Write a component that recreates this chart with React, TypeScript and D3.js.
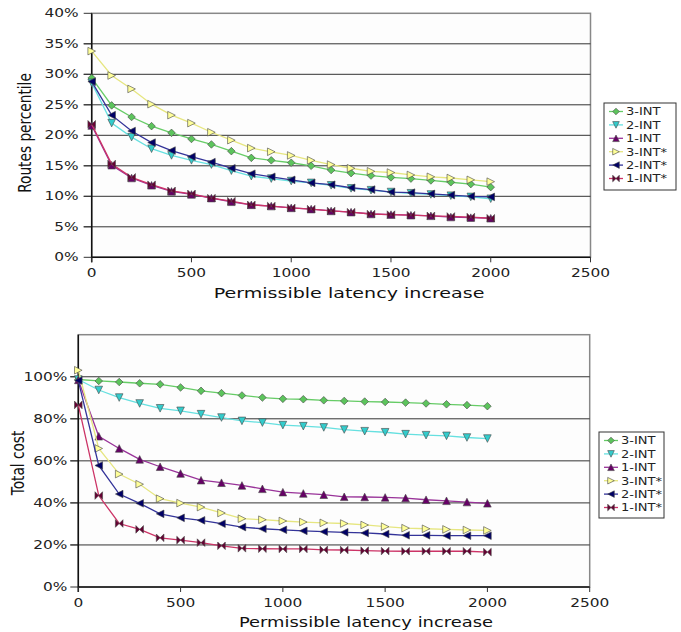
import React, { useEffect, useRef } from 'react'
import * as d3 from 'd3'

// latency increase steps (x categories)
const latency = [0, 100, 200, 300, 400, 500, 600, 700, 800, 900, 1000, 1100, 1200, 1300, 1400, 1500, 1600, 1700, 1800, 1900, 2000]

const seriesNames = ['3-INT', '2-INT', '1-INT', '3-INT*', '2-INT*', '1-INT*']

// top chart: routes percentile (%)
const routes3 = [29.4, 24.9, 23.0, 21.5, 20.4, 19.4, 18.5, 17.4, 16.3, 15.9, 15.5, 15.0, 14.3, 13.8, 13.4, 13.1, 12.9, 12.6, 12.3, 12.0, 11.5]
const routes2 = [28.6, 22.0, 19.7, 17.8, 16.7, 15.9, 15.2, 14.2, 13.3, 12.9, 12.5, 12.2, 11.8, 11.3, 11.0, 10.7, 10.5, 10.3, 10.1, 9.9, 9.6]
const routes1 = [21.6, 15.1, 13.0, 11.8, 10.8, 10.3, 9.7, 9.1, 8.6, 8.4, 8.1, 7.9, 7.6, 7.4, 7.1, 7.0, 6.9, 6.8, 6.6, 6.5, 6.4]
const routes3s = [33.8, 29.8, 27.6, 25.1, 23.3, 22.0, 20.5, 19.2, 17.9, 17.3, 16.7, 15.9, 15.2, 14.6, 14.1, 13.9, 13.5, 13.2, 13.0, 12.7, 12.4]
const routes2s = [28.8, 23.3, 20.7, 18.8, 17.5, 16.5, 15.6, 14.6, 13.7, 13.2, 12.7, 12.2, 11.9, 11.4, 11.1, 10.7, 10.6, 10.4, 10.2, 10.0, 9.9]
const routes1s = [21.8, 15.3, 13.1, 11.9, 10.9, 10.4, 9.7, 9.2, 8.6, 8.4, 8.1, 7.9, 7.6, 7.4, 7.1, 7.0, 6.9, 6.8, 6.7, 6.6, 6.4]

// bottom chart: total cost (%)
const cost3 = [98.7, 98.0, 97.5, 96.9, 96.4, 94.9, 93.3, 92.2, 91.1, 90.1, 89.5, 89.3, 88.8, 88.5, 88.2, 88.0, 87.7, 87.3, 86.9, 86.5, 86.0]
const cost2 = [98.7, 93.7, 90.1, 87.3, 85.0, 83.8, 82.2, 80.6, 79.0, 78.2, 77.0, 76.5, 75.9, 74.9, 74.1, 73.6, 72.7, 72.2, 71.9, 71.1, 70.6]
const cost1 = [98.5, 71.7, 65.9, 60.7, 57.2, 54.0, 50.8, 49.6, 48.3, 46.7, 45.1, 44.5, 43.9, 42.9, 42.8, 42.6, 42.3, 41.5, 41.0, 40.4, 39.8]
const cost3s = [103.1, 65.9, 53.7, 48.9, 42.0, 39.9, 38.0, 35.2, 32.5, 32.0, 31.4, 30.9, 30.5, 30.2, 29.5, 28.7, 28.0, 27.7, 27.4, 27.1, 26.9]
const cost2s = [98.2, 57.8, 44.2, 39.8, 34.8, 32.9, 31.7, 30.1, 28.5, 27.7, 27.2, 26.7, 26.3, 26.0, 25.7, 25.2, 24.6, 24.6, 24.4, 24.4, 24.4]
const cost1s = [86.6, 43.5, 30.2, 27.4, 23.4, 22.3, 21.1, 19.6, 18.4, 18.2, 18.1, 18.1, 17.7, 17.6, 17.3, 17.1, 17.0, 17.0, 17.0, 17.0, 16.6]

const xTicks = [0, 500, 1000, 1500, 2000, 2500]
const routesTicks = [0, 5, 10, 15, 20, 25, 30, 35, 40]
const costTicks = [0, 20, 40, 60, 80, 100]

const lineColors = ['#66cc66', '#66e0e0', '#993399', '#e6e680', '#333399', '#cc3366']
const markFill = ['#5cc45c', '#33cccc', '#660066', '#ffff99', '#000066', '#660033']
const shapes = ['diamond', 'down', 'up', 'right', 'left', 'bowtie']

const STRETCH = 1.28
const FONT = 'DejaVu Sans, Verdana, sans-serif'

function markerPath(shape, r) {
    switch (shape) {
        case 'diamond': return `M0,${-r}L${r},0L0,${r}L${-r},0Z`
        case 'down': return `M${-r},${-r}L${r},${-r}L0,${r}Z`
        case 'up': return `M0,${-r}L${r},${r}L${-r},${r}Z`
        case 'right': return `M${-r},${-r}L${r},0L${-r},${r}Z`
        case 'left': return `M${r},${-r}L${-r},0L${r},${r}Z`
        default: return `M${-r},${-r}L0,0L${-r},${r}ZM${r},${-r}L0,0L${r},${r}Z`
    }
}

function drawPanel(svg, cfg) {
    const { left, right, top, bottom, yMax, yTicks, series, yTitle, titleX, titleY, xTitleX, xTitleY, xTitleSize, labelGap, legend } = cfg
    const x = d3.scaleLinear().domain([0, 2500]).range([left, right])
    const y = d3.scaleLinear().domain([0, yMax]).range([bottom, top])
    const g = svg.append('g')

    g.append('rect').attr('x', left).attr('y', top).attr('width', right - left).attr('height', bottom - top)
        .attr('fill', '#fdfdfd').attr('stroke', '#888').attr('stroke-width', 1.5)

    // gridlines + y ticks
    g.selectAll('.grid').data(yTicks.filter(t => t > 0 && t < yMax)).join('line')
        .attr('x1', left - 8).attr('x2', right)
        .attr('y1', d => y(d)).attr('y2', d => y(d))
        .attr('stroke', '#333').attr('stroke-width', 1)
    g.selectAll('.ytick').data(yTicks).join('line')
        .attr('x1', left - 8).attr('x2', left)
        .attr('y1', d => y(d)).attr('y2', d => y(d))
        .attr('stroke', '#333')
    g.selectAll('.ylab').data(yTicks).join('text')
        .attr('transform', d => `translate(${left - labelGap},${y(d) + 4}) scale(${STRETCH},1)`)
        .attr('text-anchor', 'end').attr('font-family', FONT).attr('font-size', 12).attr('fill', '#222')
        .text(d => d + '%')

    // axes lines
    g.append('line').attr('x1', left).attr('x2', left).attr('y1', top).attr('y2', bottom + 5).attr('stroke', '#111').attr('stroke-width', 1.5)
    g.append('line').attr('x1', left).attr('x2', right).attr('y1', bottom).attr('y2', bottom).attr('stroke', '#111').attr('stroke-width', 1.5)
    g.selectAll('.xtick').data(xTicks).join('line')
        .attr('x1', d => x(d)).attr('x2', d => x(d)).attr('y1', bottom).attr('y2', bottom + 5)
        .attr('stroke', '#333')
    g.selectAll('.xlab').data(xTicks).join('text')
        .attr('transform', d => `translate(${x(d)},${bottom + 20}) scale(${STRETCH},1)`)
        .attr('text-anchor', 'middle').attr('font-family', FONT).attr('font-size', 12).attr('fill', '#222')
        .text(d => d)

    g.append('text').attr('transform', `translate(${xTitleX},${xTitleY}) scale(${STRETCH},1)`)
        .attr('text-anchor', 'middle').attr('font-family', FONT).attr('font-size', xTitleSize).attr('fill', '#111')
        .text('Permissible latency increase')
    g.append('text').attr('transform', `translate(${titleX},${titleY}) scale(${STRETCH},1) rotate(-90)`)
        .attr('text-anchor', 'middle').attr('dominant-baseline', 'central').attr('font-family', FONT).attr('font-size', 13.7).attr('fill', '#111')
        .text(yTitle)

    // series
    series.forEach((vals, i) => {
        const pts = vals.map((v, j) => [latency[j], v])
        g.append('path').datum(pts)
            .attr('d', d3.line().x(d => x(d[0])).y(d => y(d[1])))
            .attr('fill', 'none').attr('stroke', lineColors[i]).attr('stroke-width', 1.3)
        g.append('g').selectAll('path').data(pts).join('path')
            .attr('transform', d => `translate(${x(d[0])},${y(d[1])})`)
            .attr('d', markerPath(shapes[i], 3.8))
            .attr('fill', markFill[i]).attr('stroke', '#444').attr('stroke-width', 0.6)
    })

    // legend
    const lg = svg.append('g')
    lg.append('rect').attr('x', legend.x).attr('y', legend.y).attr('width', legend.w).attr('height', legend.h)
        .attr('fill', '#fff').attr('stroke', '#333').attr('stroke-width', 1)
    seriesNames.forEach((name, i) => {
        const ry = legend.y + 8.5 + i * 13.4
        lg.append('line').attr('x1', legend.x + 5).attr('x2', legend.x + 19).attr('y1', ry).attr('y2', ry)
            .attr('stroke', lineColors[i]).attr('stroke-width', 1.3)
        lg.append('path').attr('transform', `translate(${legend.x + 12},${ry})`)
            .attr('d', markerPath(shapes[i], 3.3)).attr('fill', markFill[i]).attr('stroke', '#444').attr('stroke-width', 0.6)
        lg.append('text').attr('transform', `translate(${legend.x + 22},${ry + 3.8}) scale(${STRETCH},1)`)
            .attr('font-family', FONT).attr('font-size', 10.2).attr('fill', '#222')
            .text(name)
    })
}

export default function App() {
    const ref = useRef(null)

    useEffect(() => {
        const svg = d3.select(ref.current)
        svg.selectAll('*').remove()
        drawPanel(svg, {
            left: 91.7, right: 590.5, top: 13.3, bottom: 257.3, yMax: 40, yTicks: routesTicks,
            series: [routes3, routes2, routes1, routes3s, routes2s, routes1s],
            yTitle: 'Routes percentile', titleX: 25, titleY: 133,
            xTitleX: 349, xTitleY: 298, xTitleSize: 14.9, labelGap: 13,
            legend: { x: 604, y: 103, w: 72, h: 87 }
        })
        drawPanel(svg, {
            left: 78.3, right: 589.7, top: 334.7, bottom: 587, yMax: 120, yTicks: costTicks,
            series: [cost3, cost2, cost1, cost3s, cost2s, cost1s],
            yTitle: 'Total cost', titleX: 18, titleY: 463,
            xTitleX: 366, xTitleY: 627, xTitleSize: 14, labelGap: 11,
            legend: { x: 599, y: 432, w: 65, h: 86 }
        })
    }, [])

    return (
        <div style={{ position: 'absolute', left: 0, top: 0 }}>
            <svg ref={ref} width={681} height={632} style={{ display: 'block', background: '#fff' }} />
        </div>
    )
}
